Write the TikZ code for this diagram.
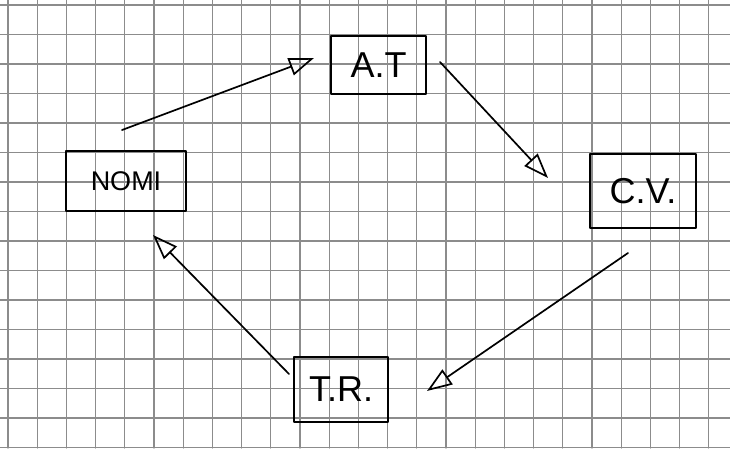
\documentclass[tikz,border=0pt]{standalone}
\usepackage{fontspec}
\setmainfont{Liberation Sans}
\usetikzlibrary{arrows.meta}
\tikzset{
  gridline/.style={black!45, line width=1.2pt},
  box/.style={draw, line width=2.6pt, inner sep=0pt, font=\fontsize{36}{36}\selectfont},
  flow/.style={line width=1.7pt, -{Triangle[open, length=25pt, width=18pt, line width=1.7pt]}}
}
\begin{document}
\begin{tikzpicture}[x=1pt, y=-1pt, line join=round, line cap=round]
\fill[white] (0,0) rectangle (730,448);
\useasboundingbox (0,0) rectangle (730,448);
% squared paper
\foreach \col in {0,...,24} \draw[gridline] (8+29.2*\col,0) -- (8+29.2*\col,448);
\foreach \row in {0,...,15} \draw[gridline] (0,5+29.5*\row) -- (730,5+29.5*\row);
% boxes
\node[box, minimum width=120pt, minimum height=60pt, font=\fontsize{27}{27}\selectfont] (nomi) at (126,181) {NOMI};
\node[box, minimum width=95pt, minimum height=58pt] (at) at (378.5,65) {A.T};
\node[box, minimum width=106pt, minimum height=74pt] (cv) at (643,191) {C.V.};
\node[box, minimum width=94pt, minimum height=65pt] (tr) at (341,389.5) {T.R.};
% arrow ends
\foreach \x\y\t in {122/130/nomi-out,314/58/at-in,440/62/at-out,548/178/cv-in,628/253/cv-out,427/391/tr-in,289/374/tr-out,153/235/nomi-in}
\coordinate (\t) at (\x,\y);
\draw[flow] (nomi-out) -- (at-in);
\draw[flow] (at-out) -- (cv-in);
\draw[flow] (cv-out) -- (tr-in);
\draw[flow] (tr-out) -- (nomi-in);
\end{tikzpicture}
\end{document}
